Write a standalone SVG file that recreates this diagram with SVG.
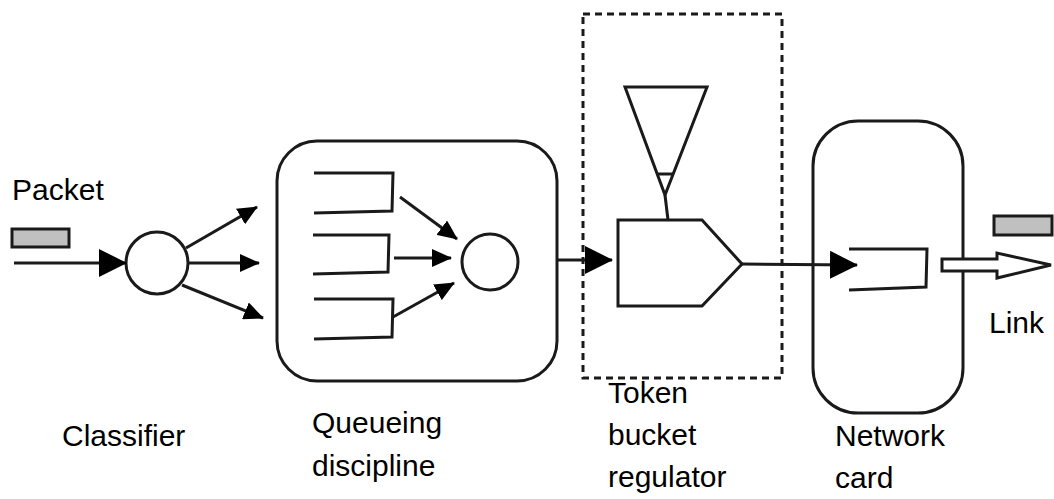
<svg xmlns="http://www.w3.org/2000/svg" width="1054" height="499" viewBox="0 0 1054 499">
  <style>
    .ln { fill: none; stroke: #1a1a1a; stroke-width: 3; stroke-linejoin: miter; }
    .sh { fill: #ffffff; stroke: #1a1a1a; stroke-width: 3; }
    .pk { fill: #c0c0c0; stroke: #1a1a1a; stroke-width: 3; }
    .lbl { font-family: "Liberation Sans", Arial, sans-serif; font-size: 30px; fill: #000000; }
  </style>
  <defs>
    <marker id="bigHead" markerUnits="userSpaceOnUse" markerWidth="28" markerHeight="28" viewBox="0 0 28 28" refX="27" refY="14" orient="auto">
      <path d="M0,0 L28,14 L0,28 Z" fill="#000000"/>
    </marker>
    <marker id="smallHead" markerUnits="userSpaceOnUse" markerWidth="20" markerHeight="18" viewBox="0 0 20 18" refX="19" refY="9" orient="auto">
      <path d="M0,0 L20,9 L0,18 Z" fill="#000000"/>
    </marker>
  </defs>

  <rect width="1054" height="499" fill="#ffffff"/>

  <!-- packet entering -->
  <g id="packet-in">
    <text class="lbl" x="12" y="200">Packet</text>
    <rect class="pk" x="12" y="229" width="57" height="18"/>
  </g>

  <!-- classifier -->
  <g id="classifier">
    <circle class="sh" cx="157" cy="263" r="31"/>
    <text class="lbl" x="62" y="446">Classifier</text>
  </g>

  <!-- queueing discipline -->
  <g id="queueing">
    <rect class="sh" x="277" y="141" width="280" height="240" rx="40" ry="40"/>
    <path class="ln" d="M314,173 L393,173 L392,211 L314,213"/>
    <path class="ln" d="M313,235 L389,235 L388,272 L313,274"/>
    <path class="ln" d="M314,299 L393,299 L392,337 L314,339"/>
    <circle class="sh" cx="490" cy="262" r="28"/>
    <text class="lbl" x="312" y="433">Queueing</text>
    <text class="lbl" x="312" y="476">discipline</text>
  </g>

  <!-- token bucket regulator -->
  <g id="token-bucket">
    <rect x="583" y="14" width="199" height="364" fill="none" stroke="#1a1a1a" stroke-width="3" stroke-dasharray="7,5"/>
    <path class="ln" d="M625,87 L707,87 L665,195 Z"/>
    <path class="ln" d="M658,174 L673,174"/>
    <path class="ln" d="M665,195 L668,220"/>
    <path class="sh" d="M618,220 L702,220 L742,264 L702,306 L618,306 Z"/>
    <text class="lbl" x="608" y="403">Token</text>
    <text class="lbl" x="608" y="445">bucket</text>
    <text class="lbl" x="608" y="487">regulator</text>
  </g>

  <!-- network card -->
  <g id="network-card">
    <rect class="sh" x="813" y="121" width="150" height="292" rx="45" ry="45"/>
    <path class="ln" d="M849,249 L927,249 L926,287 L849,290"/>
    <text class="lbl" x="835" y="446">Network</text>
    <text class="lbl" x="835" y="488">card</text>
  </g>

  <!-- outgoing link -->
  <g id="link">
    <rect class="pk" x="994" y="216" width="58" height="19"/>
    <path class="sh" d="M942,259 L997,259 L997,253 L1051,265 L997,278 L997,271 L942,271 Z"/>
    <text class="lbl" x="989" y="333">Link</text>
  </g>

  <!-- connectors -->
  <g id="connectors" class="ln">
    <path d="M14,263 L126,263" marker-end="url(#bigHead)"/>
    <path d="M186,248 L257,207" marker-end="url(#smallHead)"/>
    <path d="M189,263 L259,263" marker-end="url(#smallHead)"/>
    <path d="M182,285 L263,318" marker-end="url(#smallHead)"/>
    <path d="M400,197 L457,239" marker-end="url(#smallHead)"/>
    <path d="M394,258 L451,258" marker-end="url(#smallHead)"/>
    <path d="M393,317 L454,283" marker-end="url(#smallHead)"/>
    <path d="M557,260 L612,260" marker-end="url(#bigHead)"/>
    <path d="M742,264 L857,265" marker-end="url(#bigHead)"/>
  </g>
</svg>
